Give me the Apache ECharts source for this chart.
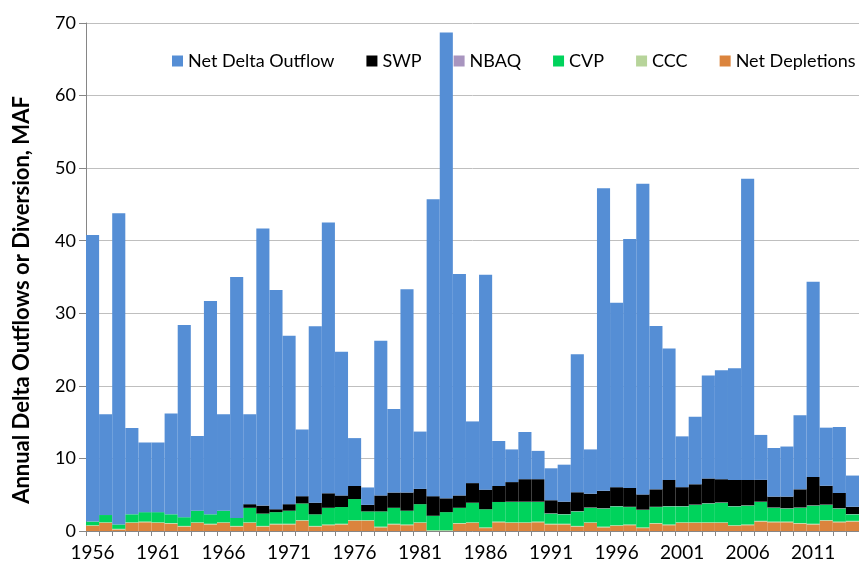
<!DOCTYPE html>
<html>
<head>
<meta charset="utf-8">
<script src="https://cdn.jsdelivr.net/npm/echarts@6/dist/echarts.min.js"></script>
<style>
html,body{margin:0;padding:0;background:#fff;}
#chart{width:859px;height:569px;}
</style>
</head>
<body>
<div id="chart"></div>
<script>
const years = [];
for (let y = 1956; y <= 2014; y++) years.push(String(y));

const netDepletions = [0.7,1.1,0.2,1.1,1.2,1.1,1.0,0.6,1.1,0.9,1.1,0.6,1.1,0.6,0.9,0.9,1.4,0.6,0.8,0.9,
  1.4,1.4,0.5,0.9,0.8,1.1,0.0,-0.1,1.0,1.1,0.4,1.2,1.1,1.1,1.2,0.9,0.9,0.6,1.1,0.5,
  0.7,0.8,0.4,1.0,0.8,1.1,1.1,1.1,1.1,0.7,0.8,1.3,1.2,1.2,1.0,0.9,1.4,1.2,1.3];
const ccc = [0.1,0.1,0.1,0.1,0.1,0.1,0.1,0.1,0.1,0.1,0.1,0.1,0.1,0.1,0.1,0.1,0.1,0.1,0.1,0.1,
  0.1,0.1,0.1,0.1,0.1,0.1,0.1,0.1,0.1,0.1,0.1,0.1,0.1,0.1,0.1,0.1,0.1,0.1,0.1,0.1,
  0.1,0.1,0.1,0.1,0.1,0.1,0.1,0.1,0.1,0.1,0.1,0.1,0.1,0.1,0.1,0.1,0.1,0.1,0.1];
const cvp = [0.5,1.0,0.6,1.1,1.3,1.4,1.2,1.2,1.6,1.3,1.6,1.1,2.0,1.7,1.6,1.8,2.3,1.6,2.3,2.3,
  2.9,1.2,2.1,2.2,1.9,2.5,2.0,2.5,2.1,2.7,2.5,2.7,2.8,2.8,2.7,1.4,1.3,2.0,2.0,2.5,
  2.6,2.4,2.4,2.2,2.5,2.2,2.4,2.6,2.7,2.6,2.6,2.6,1.9,1.8,2.1,2.5,2.1,1.8,0.9];
const nbaq = [0,0,0,0,0,0,0,0,0,0,0,0,0,0,0,0,0,0,0,0,
  0,0,0,0,0,0,0,0,0,0,0,0,0.04,0.04,0.04,0.04,0.04,0.04,0.04,0.04,
  0.04,0.04,0.04,0.04,0.04,0.04,0.04,0.04,0.04,0.04,0.04,0.04,0.04,0.04,0.04,0.04,0.04,0.04,0.04];
const swp = [0,0,0,0,0,0,0,0,0,0,0,0,0.5,1.1,0.4,0.9,1.0,1.6,2.0,1.6,
  1.8,0.9,2.2,2.1,2.5,2.1,2.7,1.9,1.7,2.7,2.7,2.2,2.7,3.1,3.1,1.8,1.7,2.6,1.9,2.4,
  2.6,2.6,2.1,2.4,3.6,2.6,2.8,3.4,3.2,3.6,3.5,3.0,1.5,1.6,2.5,3.9,2.6,2.1,1.0];
const netDeltaOutflow = [39.5,13.9,42.9,11.9,9.6,9.6,13.9,26.5,10.3,29.4,13.3,33.2,12.4,38.2,30.2,23.2,9.2,24.3,37.3,19.8,
  6.6,2.4,21.3,11.5,28.0,7.9,40.9,64.2,30.5,8.5,29.6,6.2,4.5,6.5,3.9,4.4,5.1,19.0,6.1,41.7,
  25.4,34.3,42.8,22.5,18.1,7.0,9.3,14.2,15.0,15.4,41.5,6.2,6.7,6.9,10.2,26.9,8.0,9.1,4.3];

const legendOrder = ['Net Delta Outflow','SWP','NBAQ','CVP','CCC','Net Depletions'];
const yTicks = {min: 0, max: 70, interval: 10};
const yTitle = 'Annual Delta Outflows or Diversion, MAF';

const FONT = 'Lato';
const chart = echarts.init(document.getElementById('chart'), null, {renderer: 'canvas'});

function bar(name, data, color) {
  return {
    name: name, type: 'bar', stack: 'total', data: data,
    barCategoryGap: '0%', barGap: '0%',
    itemStyle: {color: color},
    emphasis: {disabled: true},
    animation: false
  };
}

chart.setOption({
  animation: false,
  textStyle: {fontFamily: FONT, color: '#000'},
  grid: {left: 86, right: 0, top: 23, bottom: 38, containLabel: false},
  legend: {
    data: legendOrder,
    left: 172, top: 52, width: 760, padding: 0,
    itemWidth: 11, itemHeight: 11, itemGap: 32,
    icon: 'rect',
    textStyle: {fontFamily: FONT, fontSize: 18, color: '#000'}
  },
  graphic: [{
    type: 'text',
    rotation: Math.PI / 2,
    x: 22, y: 300,
    style: {
      text: yTitle,
      fontFamily: FONT, fontSize: 22, fontWeight: 'bold', fill: '#000',
      align: 'center', verticalAlign: 'middle'
    }
  }],
  xAxis: {
    type: 'category',
    data: years,
    axisLine: {lineStyle: {color: '#868686', width: 1}},
    axisTick: {show: true, interval: 0, length: 5, lineStyle: {color: '#868686'}},
    axisLabel: {interval: 4, fontFamily: FONT, fontSize: 19, color: '#000', margin: 12}
  },
  yAxis: {
    type: 'value',
    min: yTicks.min, max: yTicks.max, interval: yTicks.interval,
    axisLine: {show: true, lineStyle: {color: '#868686', width: 1}},
    axisTick: {show: true, length: 7, lineStyle: {color: '#868686'}},
    axisLabel: {fontFamily: FONT, fontSize: 18, color: '#000', margin: 10},
    splitLine: {show: true, lineStyle: {color: '#BFBFBF', width: 1}}
  },
  series: [
    bar('Net Depletions', netDepletions, '#DB843D'),
    bar('CCC', ccc, '#B7D49A'),
    bar('CVP', cvp, '#00D35C'),
    bar('NBAQ', nbaq, '#A895BF'),
    bar('SWP', swp, '#000000'),
    bar('Net Delta Outflow', netDeltaOutflow, '#558ED5')
  ]
});
</script>
</body>
</html>
